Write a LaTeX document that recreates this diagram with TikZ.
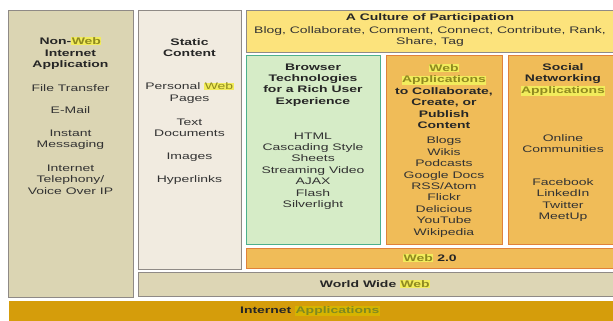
\documentclass[tikz,border=0pt]{standalone}
\usepackage{fontspec}
\setmainfont{Liberation Sans}[FakeStretch=1.47]
\definecolor{leftfill}{HTML}{DBD5B3}
\definecolor{staticfill}{HTML}{F1EBE0}
\definecolor{culturefill}{HTML}{FCE37C}
\definecolor{browserfill}{HTML}{D6ECC7}
\definecolor{browserline}{HTML}{4DB08C}
\definecolor{orangefill}{HTML}{F0BC58}
\definecolor{orangeline}{HTML}{E0823A}
\definecolor{wwwfill}{HTML}{DDD6B5}
\definecolor{barfill}{HTML}{D59D0B}
\definecolor{boxline}{HTML}{8F8A86}
\definecolor{txt}{HTML}{333333}
\definecolor{hlbg}{HTML}{F2EC5C}
\definecolor{hltx}{HTML}{8F8A20}
\definecolor{hlbarbg}{HTML}{D6B400}
\definecolor{hlbartx}{HTML}{7E8A20}
\newcommand{\hlweb}[1]{{\setlength{\fboxsep}{0.4pt}\colorbox{hlbg}{\textcolor{hltx}{#1}}}}
\newcommand{\hlbar}[1]{{\setlength{\fboxsep}{0.4pt}\colorbox{hlbarbg}{\textcolor{hlbartx}{#1}}}}
\begin{document}
\begin{tikzpicture}[x=1pt, y=-1pt,
    panel/.style={draw=boxline, line width=1.2pt, anchor=north west, inner sep=0pt},
    lbl/.style={align=center, inner sep=0pt, text=txt, font=\fontsize{9.5}{11.4}\selectfont},
    ttl/.style={lbl, text=black!85, font=\fontsize{9.5}{11.4}\selectfont\bfseries}]
  \useasboundingbox (0,0) rectangle (613,321);
  % boxes
  \node [panel, fill=leftfill, minimum width=125pt, minimum height=287pt] (nonweb) at (8,10) {};
  \node [panel, fill=staticfill, minimum width=103pt, minimum height=259pt] (static) at (138,10) {};
  \node [panel, fill=culturefill, minimum width=370pt, minimum height=42pt] (culture) at (246,10) {};
  \node [panel, draw=browserline, fill=browserfill, minimum width=134pt, minimum height=189pt] (browser) at (246,55) {};
  \node [panel, draw=orangeline, fill=orangefill, minimum width=116pt, minimum height=189pt] (webapps) at (386,55) {};
  \node [panel, draw=orangeline, fill=orangefill, minimum width=110pt, minimum height=189pt] (social) at (508,55) {};
  \node [panel, draw=orangeline, fill=orangefill, minimum width=370pt, minimum height=20pt] (webtwo) at (246,248) {};
  \node [panel, fill=wwwfill, minimum width=478pt, minimum height=24pt] (www) at (138,272) {};
  \node [panel, draw=none, fill=barfill, minimum width=610pt, minimum height=24pt] (inetbar) at (8,300) {};
  % non-web column
  \node [ttl] (nonwebT) at (70.5,53.5) {Non-\hlweb{Web}\\Internet\\Application};
  \node [lbl] (ftp) at (70.5,88) {File Transfer};
  \node [lbl] (email) at (70.5,110.5) {E-Mail};
  \node [lbl] (im) at (70.5,140) {Instant\\Messaging};
  \node [lbl] (voip) at (70.5,179.5) {Internet\\Telephony/\\Voice Over IP};
  % static column
  \node [ttl] (staticT) at (189.5,47.5) {Static\\Content};
  \node [lbl] (personal) at (189.5,93) {Personal \hlweb{Web}\\Pages};
  \node [lbl] (textdocs) at (189.5,128) {Text\\Documents};
  \node [lbl] (images) at (189.5,157) {Images};
  \node [lbl] (links) at (189.5,180) {Hyperlinks};
  % culture
  \node [ttl] (cultureT) at (430,18.5) {A Culture of Participation};
  \node [lbl] (verbs) at (430,36.5) {Blog, Collaborate, Comment, Connect, Contribute, Rank,\\Share, Tag};
  % browser
  \node [ttl] (browserT) at (313,85) {Browser\\Technologies\\for a Rich User\\Experience};
  \node [lbl] (browserL) at (313,171) {HTML\\Cascading Style\\Sheets\\Streaming Video\\AJAX\\Flash\\Silverlight};
  % web applications
  \node [ttl] (webappsT) at (444,96.5) {\hlweb{Web}\\\hlweb{Applications}\\to Collaborate,\\Create, or\\Publish\\Content};
  \node [lbl] (webappsL) at (444,187) {Blogs\\Wikis\\Podcasts\\Google Docs\\RSS/Atom\\Flickr\\Delicious\\YouTube\\Wikipedia};
  % social
  \node [ttl] (socialT) at (563,79.5) {Social\\Networking\\\hlweb{Applications}};
  \node [lbl] (online) at (563,143.5) {Online\\Communities};
  \node [lbl] (socialL) at (563,200) {Facebook\\LinkedIn\\Twitter\\MeetUp};
  % bars
  \node [ttl] (webtwoT) at (430,258) {\hlweb{Web} 2.0};
  \node [ttl] (wwwT) at (375,284) {World Wide \hlweb{Web}};
  \node [ttl] (inetT) at (310,311) {Internet \hlbar{Applications}};
\end{tikzpicture}
\end{document}
